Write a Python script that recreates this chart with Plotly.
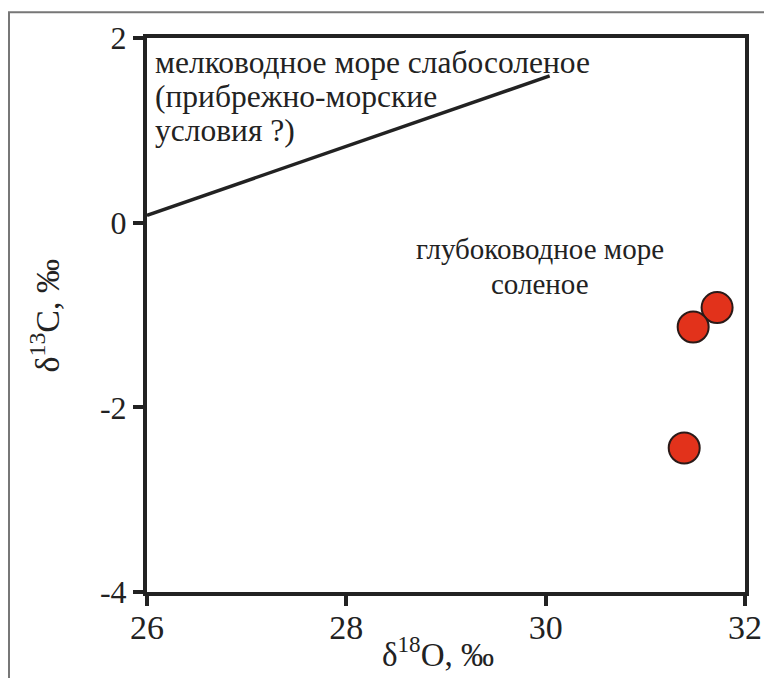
import plotly.graph_objects as go

# data
pts_x = [31.72, 31.48, 31.39]
pts_y = [-0.92, -1.13, -2.44]
line_x = [26.0, 30.04]
line_y = [0.08, 1.59]
x_ticks = [26, 28, 30, 32]
y_ticks = [-4, -2, 0, 2]
label_shallow = ["мелководное море слабосоленое", "(прибрежно-морские", "условия ?)"]
label_deep = ["глубоководное море", "соленое"]
x_title = "δ<sup>18</sup>O, ‰"
y_title = "δ<sup>13</sup>C, ‰"

FONT = "Liberation Serif, Times New Roman, serif"
INK = "#222222"

# plot area in page pixels (page has an 8px offset)
PL, PR, PT, PB = 147, 745, 35, 592
OFF = 8
W, H = 772, 678


def px(x):
    return (x - PL) / (PR - PL)


def py(y):
    return (PB - y) / (PB - PT)


fig = go.Figure()
fig.add_trace(go.Scatter(x=line_x, y=line_y, mode="lines",
                         line=dict(color=INK, width=3.5), showlegend=False,
                         cliponaxis=False))
fig.add_trace(go.Scatter(x=pts_x, y=pts_y, mode="markers",
                         marker=dict(size=31, color="#e2321b",
                                     line=dict(color="#2a1a18", width=2)),
                         showlegend=False, cliponaxis=False))

axis_common = dict(showgrid=False, zeroline=False, showline=True, linecolor=INK,
                   linewidth=4, ticks="outside", ticklen=10, tickwidth=4,
                   tickcolor=INK, mirror=True)
fig.update_xaxes(range=[26, 32], tickvals=x_ticks, ticktext=[str(v) for v in x_ticks],
                 tickfont=dict(family=FONT, size=34, color=INK),
                 ticklabelstandoff=-8, **axis_common)
fig.update_yaxes(range=[-4, 2], tickvals=y_ticks, ticktext=[str(v) for v in y_ticks],
                 tickfont=dict(family=FONT, size=32, color=INK), **axis_common)

for txt, yc in zip(label_shallow, [60, 94, 128]):
    fig.add_annotation(x=px(153), y=py(yc), xref="paper", yref="paper", text=txt,
                       showarrow=False, xanchor="left", yanchor="middle", align="left",
                       font=dict(family=FONT, size=31.5, color=INK))
for txt, yc in zip(label_deep, [247, 282]):
    fig.add_annotation(x=px(540), y=py(yc), xref="paper", yref="paper", text=txt,
                       showarrow=False, xanchor="center", yanchor="middle", align="center",
                       font=dict(family=FONT, size=29, color=INK))
fig.add_annotation(x=px(438), y=py(652), xref="paper", yref="paper",
                   text=x_title, showarrow=False, xanchor="center", yanchor="middle",
                   font=dict(family=FONT, size=33, color=INK))
fig.add_annotation(x=px(45), y=py(314), xref="paper", yref="paper",
                   text=y_title, showarrow=False, textangle=-90, xanchor="center",
                   yanchor="middle", font=dict(family=FONT, size=34, color=INK))

# outer frame of the figure
fig.add_shape(type="rect", xref="paper", yref="paper",
              x0=px(9), x1=px(800), y0=py(720), y1=py(9),
              line=dict(color="#777777", width=2), layer="below")

fig.update_layout(width=W, height=H,
                  margin=dict(l=PL - OFF, r=W - PR + OFF, t=PT - OFF, b=H - PB + OFF),
                  paper_bgcolor="white", plot_bgcolor="white")
fig.write_html("out.html")
